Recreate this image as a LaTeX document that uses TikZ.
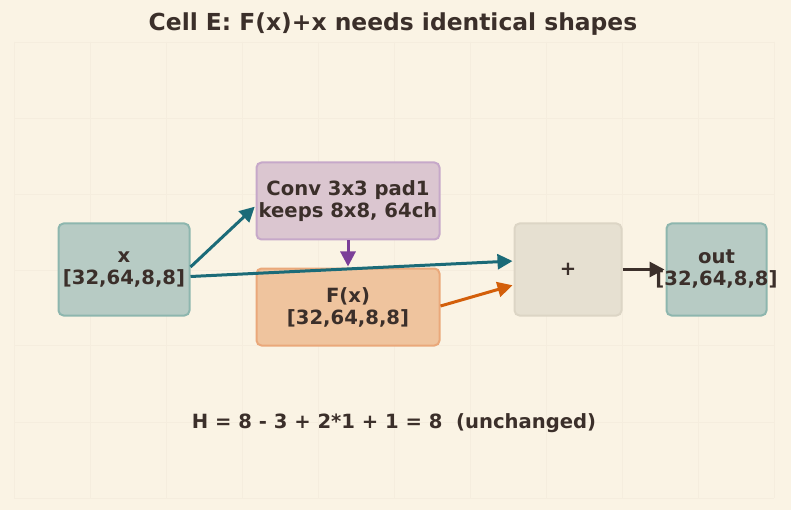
\documentclass[tikz,border=0pt]{standalone}
\usepackage{fontspec}
\setmainfont{DejaVu Sans}
\usetikzlibrary{arrows.meta}
\definecolor{bg}{HTML}{FAF3E4}
\definecolor{gridc}{HTML}{F5EDDE}
\definecolor{ink}{HTML}{3B2F2A}
\definecolor{tealf}{HTML}{B7CBC4}
\definecolor{teald}{HTML}{8DB6AE}
\definecolor{purf}{HTML}{DBC6D0}
\definecolor{purd}{HTML}{C6A8C9}
\definecolor{orf}{HTML}{EFC49E}
\definecolor{ord}{HTML}{EAA87A}
\definecolor{plf}{HTML}{E6E0D1}
\definecolor{pld}{HTML}{DCD5C5}
\definecolor{teala}{HTML}{1B6B78}
\definecolor{pura}{HTML}{7B3F98}
\definecolor{ora}{HTML}{D35F0A}
\tikzset{
  box/.style={rounded corners=5pt, line width=2pt, align=center, text=ink,
    font=\fontsize{19.6}{22}\selectfont\bfseries, inner sep=0pt},
  conn/.style={line width=3pt, -{Triangle[length=15pt,width=15pt]}, shorten >=1pt},
}
\begin{document}
\begin{tikzpicture}[x=1pt,y=-1pt]
\fill[bg] (0,0) rectangle (791,510);
\useasboundingbox (0,0) rectangle (791,510);
\foreach \gx in {14,90,166,242,318,394,470,546,622,698,774}
  \draw[gridc, line width=0.8pt] (\gx,42) -- (\gx,498);
\foreach \gy in {42,118,194,270,345,422,498}
  \draw[gridc, line width=0.8pt] (14,\gy) -- (774,\gy);
\node[text=ink, font=\fontsize{23.4}{26}\selectfont\bfseries] (title) at (393,24.5) {Cell E: F(x)+x needs identical shapes};
\node[box, fill=tealf, draw=teald, minimum width=131pt, minimum height=92pt] (x) at (124,269.5) {x\\{[32,64,8,8]}};
\node[box, fill=purf, draw=purd, minimum width=183pt, minimum height=77pt] (conv) at (348,201) {Conv 3x3 pad1\\keeps 8x8, 64ch};
\node[box, fill=orf, draw=ord, minimum width=183pt, minimum height=77pt] (fx) at (348,307) {F(x)\\{[32,64,8,8]}};
\node[box, fill=plf, draw=pld, minimum width=107pt, minimum height=92pt] (plus) at (568,269.5) {+};
\node[box, fill=tealf, draw=teald, minimum width=100pt, minimum height=92pt] (out) at (716.5,269.5) {out\\\makebox[0pt][c]{[32,64,8,8]}};
\node[text=ink, font=\fontsize{19.6}{22}\selectfont\bfseries] (eq) at (394,423) {H = 8 - 3 + 2*1 + 1 = 8~~(unchanged)};
\draw[conn, teala] (x.east |- 0,267) -- (conv.west |- 0,206);
\draw[conn, teala] (x.east |- 0,276.5) -- (plus.west |- 0,261);
\draw[conn, pura] (conv.south) -- (fx.north);
\draw[conn, ora] (fx.east |- 0,306) -- (plus.west |- 0,285);
\draw[conn, ink] (plus.east) -- (out.west);
\end{tikzpicture}
\end{document}
